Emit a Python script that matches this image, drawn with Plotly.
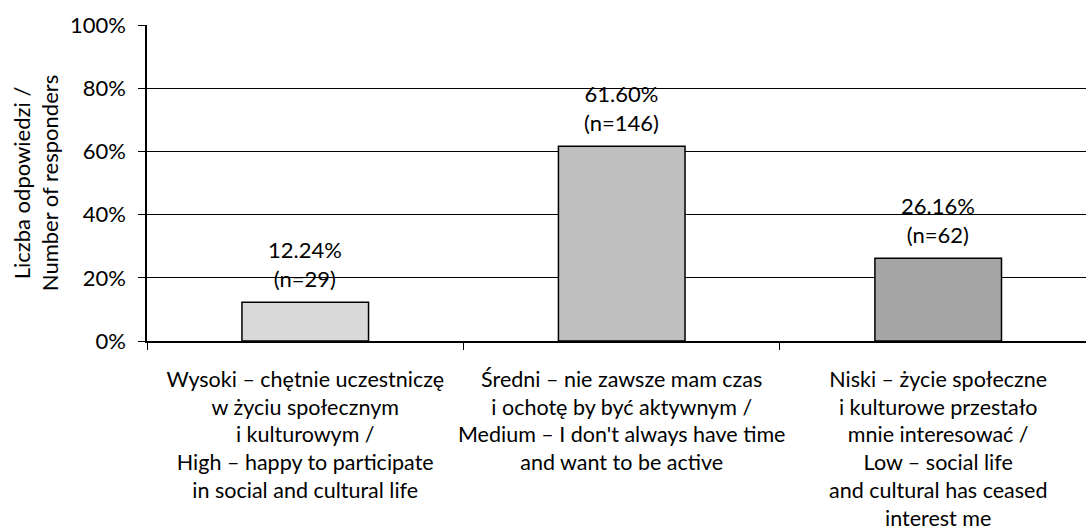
import plotly.graph_objects as go

# Survey results: level of social / cultural activity
categories = [
    "Wysoki – chętnie uczestniczę<br>w życiu społecznym<br>i kulturowym /<br>High – happy to participate<br>in social and cultural life",
    "Średni – nie zawsze mam czas<br>i ochotę by być aktywnym /<br>Medium – I don't always have time<br>and want to be active",
    "Niski – życie społeczne<br>i kulturowe przestało<br>mnie interesować /<br>Low – social life<br>and cultural has ceased<br>interest me",
]
shares = [12.24, 61.60, 26.16]
counts = [29, 146, 62]
bar_colors = ["#d9d9d9", "#bfbfbf", "#a6a6a6"]
y_ticks = [0, 20, 40, 60, 80, 100]

FONT = "Lato"
FS = 22
FS_CAT = 21.5

fig = go.Figure(
    go.Bar(
        x=categories,
        y=shares,
        width=0.4,
        marker=dict(color=bar_colors, line=dict(color="#000000", width=1.5)),
        hoverinfo="skip",
    )
)

for cat, val, n in zip(categories, shares, counts):
    fig.add_annotation(
        x=cat, y=val, xref="x", yref="y",
        text=f"{val:.2f}%<br>(n={n})",
        showarrow=False, yanchor="bottom", yshift=8,
        font=dict(family=FONT, size=FS, color="#000000"),
    )

fig.update_layout(
    width=1086, height=530,
    margin=dict(l=147, r=0, t=25, b=189),
    paper_bgcolor="white", plot_bgcolor="white",
    showlegend=False,
    font=dict(family=FONT, size=FS, color="#000000"),
)

fig.update_xaxes(
    type="category",
    range=[-0.5, 2.467],
    tickson="boundaries",
    tickangle=0,
    automargin=False,
    ticks="outside", ticklen=7, tickcolor="#000000", tickwidth=1,
    ticklabelstandoff=18,
    showline=True, linecolor="#000000", linewidth=1.5,
    showgrid=False,
    tickfont=dict(family=FONT, size=FS_CAT, color="#000000"),
)

fig.update_yaxes(
    range=[0, 100],
    tickvals=y_ticks,
    ticktext=[f"{v}%" for v in y_ticks],
    automargin=False,
    ticks="outside", ticklen=7, tickcolor="#000000", tickwidth=1,
    ticklabelstandoff=8,
    showline=True, linecolor="#000000", linewidth=1.5,
    showgrid=True, gridcolor="#000000", gridwidth=1,
    zeroline=False,
    tickfont=dict(family=FONT, size=FS, color="#000000"),
    title=dict(text="Liczba odpowiedzi /<br>Number of responders",
               font=dict(family=FONT, size=FS, color="#000000"), standoff=5),
)

fig.write_html("out.html")
